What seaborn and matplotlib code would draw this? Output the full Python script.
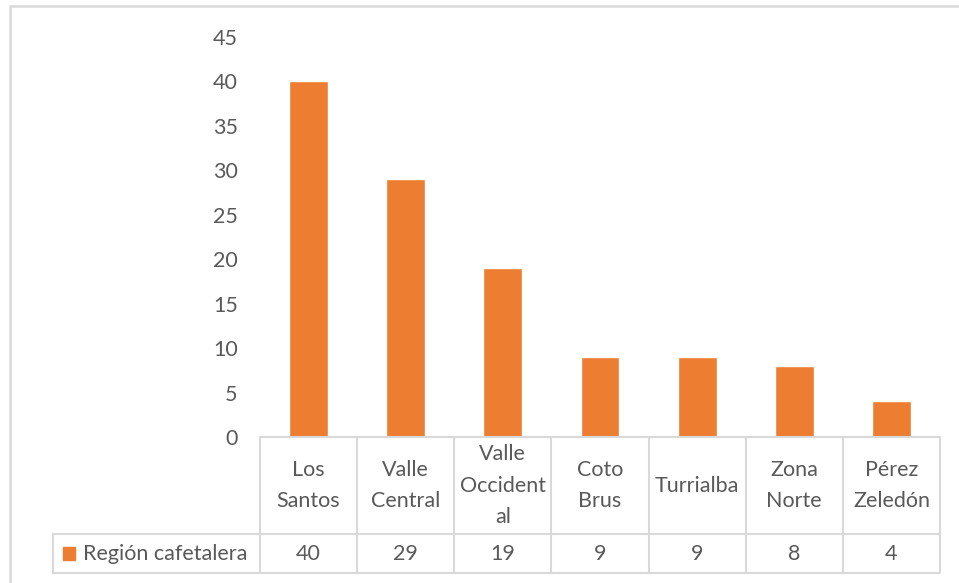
import matplotlib
matplotlib.use("Agg")
import matplotlib.pyplot as plt
from matplotlib.patches import Rectangle
import seaborn as sns
import pandas as pd

regions = ["Los Santos", "Valle Central", "Valle Occidental", "Coto Brus",
           "Turrialba", "Zona Norte", "Pérez Zeledón"]
header_labels = ["Los\nSantos", "Valle\nCentral", "Valle\nOccident\nal", "Coto\nBrus",
                 "Turrialba", "Zona\nNorte", "Pérez\nZeledón"]
values = [40, 29, 19, 9, 9, 8, 4]
series_name = "Región cafetalera"
yticks = [0, 5, 10, 15, 20, 25, 30, 35, 40, 45]

orange = "#ED7D31"
txt = "#595959"
grid = "#D9D9D9"
fs = 15.5

sns.set_theme(style="white")
plt.rcParams["font.family"] = ["Lato", "DejaVu Sans"]

df = pd.DataFrame({"region": regions, "value": values})

fig = plt.figure(figsize=(9.59, 5.83), dpi=100)
ax = fig.add_axes([260 / 959, 146 / 583, 680 / 959, 400 / 583])

sns.barplot(data=df, x="region", y="value", color=orange, width=0.4,
            saturation=1, ax=ax)

ax.set_ylim(0, 45)
ax.set_xlim(-0.5, len(regions) - 0.5)
ax.set_yticks(yticks)
ax.set_yticklabels([str(t) for t in yticks], fontsize=fs, color=txt)
ax.tick_params(axis="y", length=0, pad=16)
ax.set_xticks([])
ax.set_xlabel("")
ax.set_ylabel("")
for s in ["top", "right", "left"]:
    ax.spines[s].set_visible(False)
ax.spines["bottom"].set_color(grid)
ax.spines["bottom"].set_linewidth(1.5)

# data table under the axis
bx = ax.get_xaxis_transform()
h_mid = -97 / 400
h_bot = -136 / 400
leg_left = (53 - 260) / 680
n = len(regions)

ax.plot([leg_left, 1], [h_mid, h_mid], transform=ax.transAxes, color=grid,
        lw=1.5, clip_on=False)
ax.plot([leg_left, 1], [h_bot, h_bot], transform=ax.transAxes, color=grid,
        lw=1.5, clip_on=False)
ax.plot([leg_left, leg_left], [h_mid, h_bot], transform=ax.transAxes, color=grid,
        lw=1.5, clip_on=False)
for i in range(n + 1):
    ax.plot([i - 0.5, i - 0.5], [0, h_bot], transform=bx, color=grid, lw=1.5,
            clip_on=False)

for i, (lab, v) in enumerate(zip(header_labels, values)):
    ax.text(i, h_mid / 2, lab, transform=bx, ha="center", va="center",
            fontsize=fs, color=txt, linespacing=1.7, clip_on=False)
    ax.text(i, (h_mid + h_bot) / 2, str(v), transform=bx, ha="center",
            va="center", fontsize=fs, color=txt, clip_on=False)

row_y = (h_mid + h_bot) / 2
ax.add_patch(Rectangle(((63 - 260) / 680, row_y - 6.5 / 400), 12 / 680, 13 / 400,
                       transform=ax.transAxes, color=orange, clip_on=False))
ax.text((83 - 260) / 680, row_y, series_name, transform=ax.transAxes,
        ha="left", va="center", fontsize=fs, color=txt, clip_on=False)

# chart area frame
fig.patches.append(Rectangle((9.5 / 959, -0.1), 1.1, (583 - 6.5) / 583 + 0.1,
                             transform=fig.transFigure, fill=False,
                             edgecolor=grid, lw=1.8))

fig.savefig("out.png", dpi=100)
